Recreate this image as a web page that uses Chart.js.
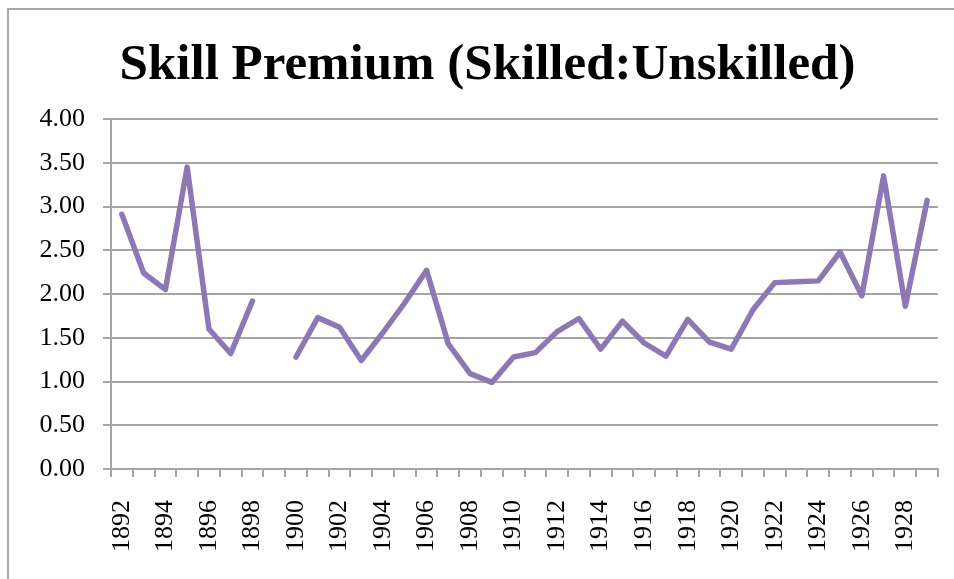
<!DOCTYPE html>
<html>
<head>
<meta charset="utf-8">
<title>Skill Premium</title>
<script src="https://cdn.jsdelivr.net/npm/chart.js@4.4.1/dist/chart.umd.min.js"></script>
<style>
	body { margin: 0; background: #fff; }
	#marco { position: absolute; left: 7px; top: 8px; width: 947px; height: 571px;
		border-left: 2px solid #a8a8a8; border-top: 2px solid #a8a8a8; }
	#contenedor { position: absolute; left: 9px; top: 10px; width: 945px; height: 569px; }
</style>
</head>
<body>
	<div id="marco"></div>
	<div id="contenedor">
		<canvas id="grafico"></canvas>
	</div>

	<script type="text/javascript">

	// datos
	var anios = [1892, 1893, 1894, 1895, 1896, 1897, 1898, 1899, 1900, 1901,
		1902, 1903, 1904, 1905, 1906, 1907, 1908, 1909, 1910, 1911,
		1912, 1913, 1914, 1915, 1916, 1917, 1918, 1919, 1920, 1921,
		1922, 1923, 1924, 1925, 1926, 1927, 1928, 1929];

	var primaSalarial = [2.91, 2.24, 2.05, 3.45, 1.60, 1.32, 1.92, null, 1.28, 1.73,
		1.62, 1.24, 1.56, 1.90, 2.27, 1.43, 1.09, 0.99, 1.28, 1.33,
		1.57, 1.72, 1.37, 1.69, 1.44, 1.29, 1.71, 1.45, 1.37, 1.82,
		2.13, 2.14, 2.15, 2.48, 1.98, 3.35, 1.86, 3.07];

	// solo se rotula un anio de cada dos
	var etiquetasX = anios.map(function(a, i) { return i % 2 === 0 ? String(a) : ''; });

	var gris = '#a5a5a5';
	var fuente = 'Liberation Serif, Times New Roman, serif';

	var ctx = document.getElementById('grafico').getContext('2d');
	window.chartJS = new Chart(ctx, {
		type: 'line',
		data: {
			labels: anios,
			datasets: [
				{
					label: 'Skill Premium',
					data: primaSalarial,
					borderColor: '#8c78b4',
					borderWidth: 5.5,
					borderCapStyle: 'round',
					borderJoinStyle: 'round',
					pointRadius: 0,
					tension: 0,
					spanGaps: false
				}
			]
		},
		options: {
			responsive: true,
			maintainAspectRatio: false,
			animation: false,
			layout: { padding: { left: 28, right: 16, top: 0, bottom: 0 } },
			plugins: {
				legend: { display: false },
				tooltip: { enabled: false },
				title: {
					display: true,
					text: 'Skill Premium (Skilled:Unskilled)',
					color: '#000',
					font: { family: fuente, size: 51, weight: 'bold' },
					padding: { top: 25, bottom: 22.8 }
				}
			},
			scales: {
				x: {
					offset: true,
					grid: { drawOnChartArea: false, offset: true, tickLength: 8, color: gris, lineWidth: 2 },
					border: { color: gris, width: 2 },
					ticks: {
						autoSkip: false,
						maxRotation: 90,
						minRotation: 90,
						padding: 23,
						color: '#000',
						font: { family: fuente, size: 26 },
						callback: function(valor, i) { return etiquetasX[i]; }
					},
					afterFit: function(escala) {
						escala.height = 110;
						escala.paddingLeft = 0;
						escala.paddingRight = 0;
					}
				},
				y: {
					min: 0,
					max: 4,
					grid: { color: gris, lineWidth: 2, tickLength: 8 },
					border: { color: gris, width: 2 },
					ticks: {
						stepSize: 0.5,
						padding: 18,
						color: '#000',
						font: { family: fuente, size: 26 },
						callback: function(valor) { return valor.toFixed(2); }
					},
					afterFit: function(escala) {
						escala.width = 74;
						escala.paddingTop = 0;
						escala.paddingBottom = 0;
					}
				}
			}
		}
	});

	</script>
</body>
</html>
